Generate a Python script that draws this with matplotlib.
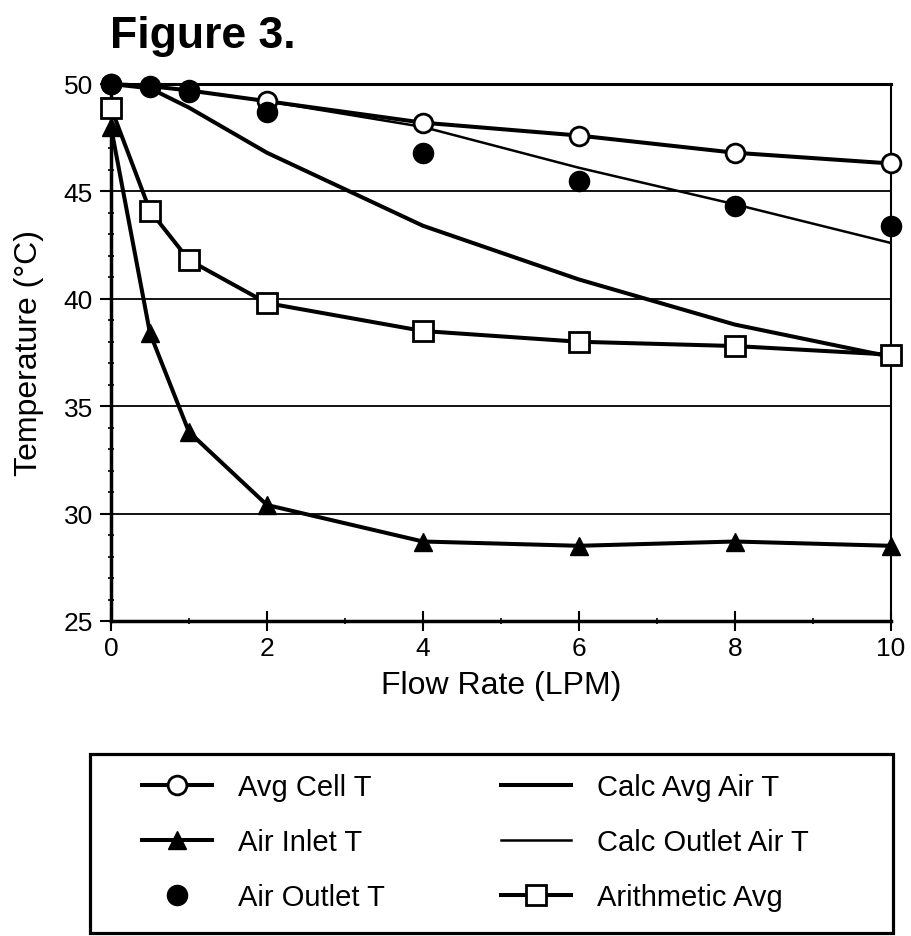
import matplotlib
matplotlib.use("Agg")

import matplotlib.pyplot as plt
from matplotlib.patches import Rectangle
import numpy as np

plt.rcParams["font.family"] = ["Liberation Sans", "DejaVu Sans"]

# flow rates (LPM)
flow = [0, 0.5, 1, 2, 4, 6, 8, 10]

avg_cell_t = [50.0, 49.9, 49.7, 49.2, 48.2, 47.6, 46.8, 46.3]
air_inlet_t = [48.0, 38.4, 33.8, 30.4, 28.7, 28.5, 28.7, 28.5]
air_outlet_t = [50.0, 49.85, 49.65, 48.7, 46.8, 45.5, 44.3, 43.4]
calc_avg_air_t = [50.0, 49.8, 48.9, 46.8, 43.4, 40.9, 38.8, 37.3]
calc_outlet_air_t = [50.0, 49.9, 49.7, 49.2, 48.0, 46.1, 44.4, 42.6]
arithmetic_avg = [48.9, 44.1, 41.8, 39.8, 38.5, 38.0, 37.8, 37.4]

fig = plt.figure(figsize=(9.12, 9.37), dpi=100)
ax = fig.add_axes([0.1217, 0.3362, 0.855, 0.5731])

ax.plot(flow, calc_avg_air_t, color="black", lw=2.9, label="Calc Avg Air T", zorder=3)
ax.plot(flow, calc_outlet_air_t, color="black", lw=1.8, label="Calc Outlet Air T", zorder=3)
ax.plot(flow, avg_cell_t, color="black", lw=2.9, marker="o", ms=13.5,
        mfc="white", mec="black", mew=2, label="Avg Cell T", zorder=4, clip_on=False)
ax.plot(flow, air_inlet_t, color="black", lw=2.9, marker="^", ms=13.5,
        mfc="black", mec="black", label="Air Inlet T", zorder=4, clip_on=False)
ax.plot(flow, air_outlet_t, ls="none", marker="o", ms=14.5,
        mfc="black", mec="black", label="Air Outlet T", zorder=5, clip_on=False)
ax.plot(flow, arithmetic_avg, color="black", lw=2.9, marker="s", ms=14,
        mfc="white", mec="black", mew=2, label="Arithmetic Avg", zorder=4, clip_on=False)

ax.set_xlim(0, 10)
ax.set_ylim(25, 50)
ax.set_xticks(np.arange(0, 11, 2))
ax.set_xticks(np.arange(0, 11, 1), minor=True)
ax.set_yticks(np.arange(25, 51, 5))
ax.set_yticks(np.arange(25, 51, 1), minor=True)
ax.tick_params(axis="x", which="major", direction="inout", length=14, width=1.5,
               labelsize=19, pad=4)
ax.tick_params(axis="y", which="major", direction="out", length=8, width=1.5,
               labelsize=19, pad=5)
ax.tick_params(axis="both", which="minor", direction="inout", length=5, width=1.2)

ax.grid(axis="y", which="major", color="black", lw=1.3)
ax.set_axisbelow(True)

ax.spines["left"].set_linewidth(2.5)
ax.spines["bottom"].set_linewidth(2.5)
ax.spines["top"].set_linewidth(2.2)
ax.spines["right"].set_linewidth(1.5)

ax.set_xlabel("Flow Rate (LPM)", fontsize=23, labelpad=7)
ax.set_ylabel("Temperature (°C)", fontsize=23)
ax.yaxis.set_label_coords(-0.086, 0.5)

fig.text(0.1206, 0.9488, "Figure 3.", fontsize=32, fontweight="bold",
         ha="left", va="baseline")

# legend: two columns of three, boxed
handles, labels = ax.get_legend_handles_labels()
order = ["Avg Cell T", "Air Inlet T", "Air Outlet T",
         "Calc Avg Air T", "Calc Outlet Air T", "Arithmetic Avg"]
hmap = dict(zip(labels, handles))
fig.legend([hmap[k] for k in order], order, loc="center left", ncol=2,
           bbox_to_anchor=(142 / 912, 1 - 843 / 937), frameon=False,
           fontsize=21, handlelength=2.4, handletextpad=0.88, labelspacing=0.93,
           columnspacing=4.0, borderpad=0, borderaxespad=0)
fig.patches.append(Rectangle((90 / 912, 1 - 934 / 937), (893 - 90) / 912,
                             (934 - 755) / 937, transform=fig.transFigure,
                             fill=False, edgecolor="black", lw=2.3))

fig.savefig("out.png", dpi=100)
